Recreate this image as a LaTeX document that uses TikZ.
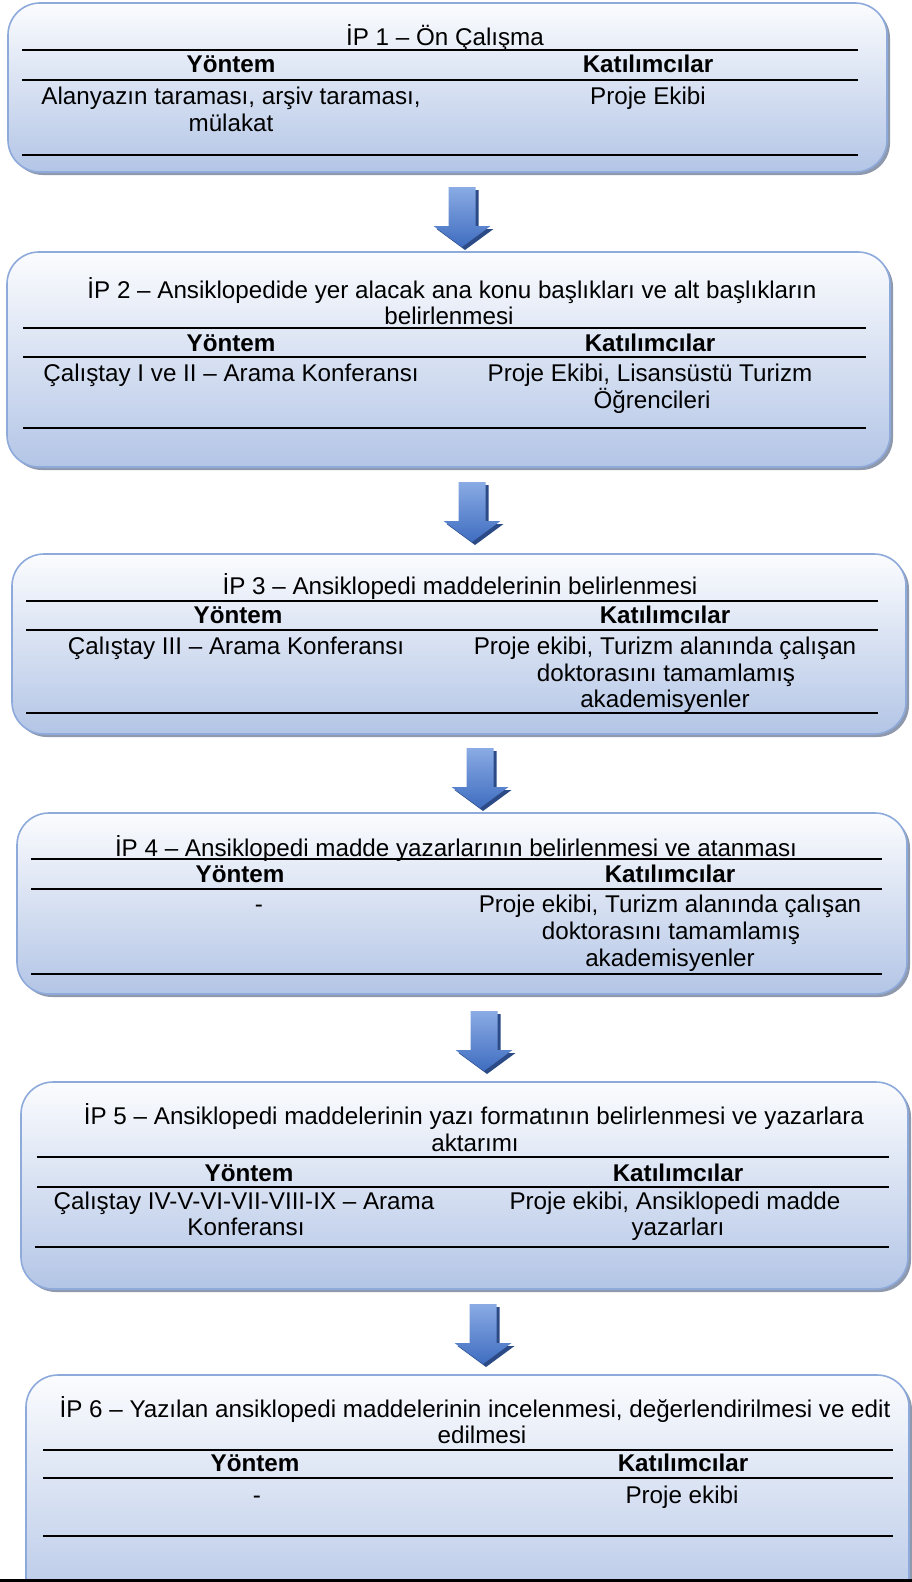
\documentclass[tikz,border=0pt]{standalone}
\usepackage{fontspec}
\setmainfont{Liberation Sans}
\usetikzlibrary{shadows}

\definecolor{boxtop}{HTML}{FBFCFE}
\definecolor{boxbot}{HTML}{B3C5E6}
\definecolor{boxline}{HTML}{8EAADB}
\definecolor{boxshadow}{HTML}{8E99AD}
\definecolor{arrowlight}{HTML}{8AABE4}
\definecolor{arrowdark}{HTML}{3F6DC0}
\definecolor{arrowshadow}{HTML}{2B4A86}

\tikzset{
  ipbox/.style={draw=boxline, line width=1.6pt, rounded corners=32pt,
    top color=boxtop, bottom color=boxbot, inner sep=0pt,
    drop shadow={shadow xshift=3pt, shadow yshift=-3pt, fill=boxshadow, opacity=1}},
  rulel/.style={line width=1.8pt, black},
  txt/.style={font=\fontsize{24.2}{27}\selectfont, anchor=base, inner sep=0pt},
  hdr/.style={font=\fontsize{24.2}{27}\selectfont\bfseries, anchor=base, inner sep=0pt},
  arrowfill/.style={top color=arrowlight, bottom color=arrowdark, draw=none},
  arrowshade/.style={fill=arrowshadow},
}

\newcommand\blockarrow[2]{%
  \fill[arrowshade] (#1-13.5+3,#2+3) -- (#1+13.5+3,#2+3) -- (#1+13.5+3,#2+42) -- (#1+28.5+3,#2+42) -- (#1+3,#2+63) -- (#1-28.5+3,#2+42) -- (#1-13.5+3,#2+42) -- cycle;
  \shade[arrowfill] (#1-13.5,#2) -- (#1+13.5,#2) -- (#1+13.5,#2+39) -- (#1+28.5,#2+39) -- (#1,#2+60) -- (#1-28.5,#2+39) -- (#1-13.5,#2+39) -- cycle;
}

\begin{document}
\begin{tikzpicture}[x=1pt,y=-1pt]
\useasboundingbox (0,0) rectangle (912,1582);
\clip (0,0) rectangle (912,1582);
\fill[white] (0,0) rectangle (912,1582);

% ---------- Box 1
\node[ipbox, minimum width=879pt, minimum height=169pt] (b1) at (447.5,87.5) {};
\draw[rulel] (22,50) -- (858,50);
\draw[rulel] (22,80) -- (858,80);
\draw[rulel] (22,155) -- (858,155);
\node[txt] (b1t) at (445,45) {İP 1 – Ön Çalışma};
\node[hdr] (b1h1) at (231,72) {Yöntem};
\node[hdr] (b1h2) at (648,72) {Katılımcılar};
\node[txt] (b1y1) at (231,104) {Alanyazın taraması, arşiv taraması,};
\node[txt] (b1y2) at (231,131) {mülakat};
\node[txt] (b1k1) at (648,104) {Proje Ekibi};

\blockarrow{462}{187}

% ---------- Box 2
\node[ipbox, minimum width=883pt, minimum height=215pt] (b2) at (448.5,359.5) {};
\draw[rulel] (23,328) -- (866,328);
\draw[rulel] (23,357) -- (866,357);
\draw[rulel] (23,428) -- (866,428);
\node[txt] (b2t1) at (452,298) {İP 2 – Ansiklopedide yer alacak ana konu başlıkları ve alt başlıkların};
\node[txt] (b2t2) at (449,324) {belirlenmesi};
\node[hdr] (b2h1) at (231,351) {Yöntem};
\node[hdr] (b2h2) at (650,351) {Katılımcılar};
\node[txt] (b2y1) at (231,381) {Çalıştay I ve II – Arama Konferansı};
\node[txt] (b2k1) at (650,381) {Proje Ekibi, Lisansüstü Turizm};
\node[txt] (b2k2) at (652,408) {Öğrencileri};

\blockarrow{472}{482}

% ---------- Box 3
\node[ipbox, minimum width=894pt, minimum height=180pt] (b3) at (459,644) {};
\draw[rulel] (26,601) -- (878,601);
\draw[rulel] (26,630) -- (878,630);
\draw[rulel] (26,713) -- (878,713);
\node[txt] (b3t) at (460,594) {İP 3 – Ansiklopedi maddelerinin belirlenmesi};
\node[hdr] (b3h1) at (238,623) {Yöntem};
\node[hdr] (b3h2) at (665,623) {Katılımcılar};
\node[txt] (b3y1) at (236,654) {Çalıştay III – Arama Konferansı};
\node[txt] (b3k1) at (665,654) {Proje ekibi, Turizm alanında çalışan};
\node[txt] (b3k2) at (666,681) {doktorasını tamamlamış};
\node[txt] (b3k3) at (665,707) {akademisyenler};

\blockarrow{480}{748}

% ---------- Box 4
\node[ipbox, minimum width=890pt, minimum height=181pt] (b4) at (462,903.5) {};
\draw[rulel] (31,859) -- (882,859);
\draw[rulel] (31,889) -- (882,889);
\draw[rulel] (31,974) -- (882,974);
\node[txt] (b4t) at (456,856) {İP 4 – Ansiklopedi madde yazarlarının belirlenmesi ve atanması};
\node[hdr] (b4h1) at (240,882) {Yöntem};
\node[hdr] (b4h2) at (670,882) {Katılımcılar};
\node[txt] (b4y1) at (259,912) {-};
\node[txt] (b4k1) at (670,912) {Proje ekibi, Turizm alanında çalışan};
\node[txt] (b4k2) at (671,939) {doktorasını tamamlamış};
\node[txt] (b4k3) at (670,966) {akademisyenler};

\blockarrow{484}{1011}

% ---------- Box 5
\node[ipbox, minimum width=887pt, minimum height=207pt] (b5) at (464.5,1185.5) {};
\draw[rulel] (37,1157) -- (889,1157);
\draw[rulel] (37,1187) -- (889,1187);
\draw[rulel] (35,1247) -- (889,1247);
\node[txt] (b5t1) at (474,1124) {İP 5 – Ansiklopedi maddelerinin yazı formatının belirlenmesi ve yazarlara};
\node[txt] (b5t2) at (475,1151) {aktarımı};
\node[hdr] (b5h1) at (249,1181) {Yöntem};
\node[hdr] (b5h2) at (678,1181) {Katılımcılar};
\node[txt] (b5y1) at (244,1209) {Çalıştay IV-V-VI-VII-VIII-IX – Arama};
\node[txt] (b5y2) at (246,1235) {Konferansı};
\node[txt] (b5k1) at (675,1209) {Proje ekibi, Ansiklopedi madde};
\node[txt] (b5k2) at (678,1235) {yazarları};

\blockarrow{483}{1304}

% ---------- Box 6
\node[ipbox, minimum width=883pt, minimum height=245pt] (b6) at (467.5,1497.5) {};
\draw[rulel] (43,1450) -- (893,1450);
\draw[rulel] (43,1478) -- (893,1478);
\draw[rulel] (43,1536) -- (893,1536);
\node[txt] (b6t1) at (475,1417) {İP 6 – Yazılan ansiklopedi maddelerinin incelenmesi, değerlendirilmesi ve edit};
\node[txt] (b6t2) at (482,1443) {edilmesi};
\node[hdr] (b6h1) at (255,1471) {Yöntem};
\node[hdr] (b6h2) at (683,1471) {Katılımcılar};
\node[txt] (b6y1) at (257,1503) {-};
\node[txt] (b6k1) at (682,1503) {Proje ekibi};

\fill[black] (0,1579) rectangle (912,1582);
\end{tikzpicture}
\end{document}
